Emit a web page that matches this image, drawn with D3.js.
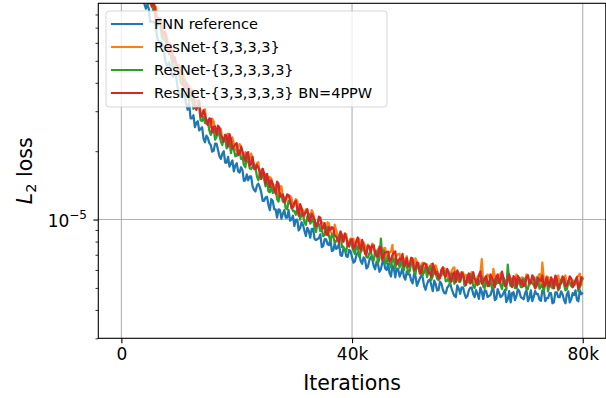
<!DOCTYPE html>
<html><head><meta charset="utf-8">
<script src="https://cdn.jsdelivr.net/npm/d3@7"></script>
<style>
body{margin:0;background:#fff}
svg{display:block}
text{font-family:"DejaVu Sans",sans-serif;fill:#000}
</style>
</head><body>
<svg id="chart" width="606" height="398"></svg>
<script>
// ---------------- data (loss values in units of 1e-6) ----------------
const seriesNames = ["FNN reference","ResNet-{3,3,3,3}","ResNet-{3,3,3,3,3}","ResNet-{3,3,3,3,3} BN=4PPW"];
const seriesColors = ["#1f77b4","#ff7f0e","#2ca02c","#d62728"];
const iterations = d3.range(0, 80001, 500);      // samples at 0, 500, ... 80000
const iterationsMid = d3.range(250, 80000, 500); // samples at 250, 750, ... 79750
const lossUnit = 1e-6;

const fnnLoss = [
186.5,182.8,157.1,153.9,126.8,124.9,110.1,107.7,89.0,88.4,
74.1,73.9,70.3,60.7,60.4,52.4,46.9,47.5,42.5,42.6,
36.1,36.1,34.9,30.5,27.9,28.8,26.7,24.7,25.5,21.9,
22.9,21.3,20.1,21.6,19.0,19.5,17.8,18.9,17.7,16.3,
17.7,16.1,16.5,14.9,14.9,15.5,13.5,14.1,13.9,12.1,
12.5,11.6,12.3,11.1,10.2,11.0,10.6,10.2,11.0,10.0,
9.37,9.99,9.16,9.46,8.47,8.93,9.10,8.22,8.21,8.61,
7.64,8.19,7.72,7.26,7.86,7.52,6.96,7.44,6.90,7.36,
6.83,6.56,7.17,6.56,6.82,6.09,6.62,6.68,6.04,6.36,
6.05,6.55,5.99,5.81,6.29,5.57,6.05,5.81,5.59,5.92,
5.74,5.24,5.63,5.31,5.68,5.09,5.20,5.46,4.84,5.20,
4.89,5.22,4.74,5.01,5.24,4.76,4.56,4.97,5.03,4.72,
4.60,5.01,4.70,4.89,4.47,4.81,4.89,4.56,4.65,4.98,
4.47,4.75,4.61,4.90,4.46,4.32,4.79,4.60,4.84,4.51,
4.74,4.37,4.88,4.56,4.70,4.44,4.88,4.37,4.51,4.74,
4.32,4.78,4.55,4.69,4.28,4.83,4.46,4.65,4.42,4.88,
4.78];
const fnnLossMid = [
193.2,163.0,159.6,131.6,130.5,112.2,112.9,96.2,84.8,84.8,
74.6,74.7,62.5,60.7,58.4,48.4,49.2,43.3,44.1,38.1,
34.7,35.7,32.1,32.5,27.9,25.5,27.1,25.1,22.7,23.4,
21.7,19.9,21.6,20.3,18.5,20.0,17.8,17.1,18.2,17.3,
16.3,17.0,14.8,15.8,15.5,14.0,13.3,14.4,13.2,12.1,
12.6,11.0,12.1,11.1,11.1,10.1,11.0,10.2,9.89,10.4,
9.98,8.95,9.73,8.92,9.20,8.32,9.11,8.13,8.28,7.56,
8.20,7.79,8.19,7.33,7.43,7.83,6.92,7.39,6.85,7.24,
6.46,6.94,7.07,6.39,6.66,6.20,6.85,6.26,6.52,5.89,
6.46,6.09,6.39,5.61,6.09,6.08,5.61,6.13,5.44,5.73,
5.39,5.76,5.11,5.50,5.55,4.91,5.39,5.12,5.38,4.87,
5.33,4.91,4.73,5.11,4.98,4.61,5.13,4.71,5.02,4.52,
4.88,5.01,4.56,4.70,5.02,4.47,4.84,4.61,4.89,4.42,
4.94,4.56,4.74,4.33,4.84,4.74,4.42,4.93,4.56,4.46,
4.88,4.51,4.37,4.84,4.69,4.39,4.88,4.51,4.74,4.28,
4.78,4.55,4.83,4.42,4.69,4.32,4.74,4.88,4.37,4.69];

const resnet4Loss = [
230.8,219.4,186.6,186.6,158.6,154.4,128.2,125.7,119.1,100.9,
96.5,85.3,86.1,74.3,71.9,61.0,62.3,55.4,53.0,47.3,
47.8,41.2,41.5,37.4,38.2,32.6,32.9,32.4,28.9,30.6,
27.2,25.6,27.1,24.6,25.0,22.5,23.6,23.9,21.3,21.6,
20.1,21.5,19.4,19.8,17.8,19.5,17.4,17.7,15.6,16.3,
15.8,14.4,15.2,13.5,13.8,14.0,12.7,12.0,12.7,12.5,
11.5,12.1,10.6,11.0,11.1,10.2,11.0,9.97,9.46,9.93,
9.64,8.80,9.62,8.72,9.49,8.33,8.54,7.99,8.61,8.00,
8.20,7.41,8.18,7.56,7.94,7.33,7.56,7.84,7.04,7.41,
7.12,7.47,6.70,7.19,7.73,6.70,7.04,6.50,6.70,6.89,
6.24,6.55,6.74,6.12,6.30,5.87,6.35,6.23,5.87,6.28,
5.52,5.95,6.10,5.72,5.58,6.11,5.47,5.78,5.86,5.49,
5.63,5.39,5.85,5.25,5.69,6.69,5.25,5.73,5.41,6.06,
5.30,5.57,5.68,5.11,5.68,5.47,5.31,5.74,5.20,5.57,
5.36,5.68,5.25,5.52,5.15,5.76,6.47,5.25,5.57,5.04,
5.46,5.62,5.19,5.41,5.67,5.14,5.46,5.25,5.57,5.78,
5.62];
const resnet4LossMid = [
229.7,193.6,193.4,166.4,164.4,136.1,130.4,123.7,105.1,93.9,
95.9,87.1,75.1,77.1,66.7,64.3,55.7,56.7,47.4,48.1,
42.9,44.1,38.5,38.6,33.5,33.9,33.5,29.3,30.1,26.4,
27.6,27.8,24.7,24.4,25.1,22.3,23.7,21.8,23.0,20.4,
20.8,21.1,18.3,19.6,18.0,18.6,16.5,17.9,16.6,15.2,
15.0,15.4,13.7,14.2,12.6,14.0,12.6,12.6,12.7,11.3,
12.3,11.0,11.2,10.3,11.0,10.3,10.7,9.37,10.0,9.74,
8.99,9.72,8.81,8.37,9.00,8.61,8.14,8.67,7.66,8.26,
8.23,7.68,8.22,7.30,7.67,7.75,7.15,7.74,6.87,7.37,
7.09,7.51,6.81,7.22,6.54,6.94,7.07,6.40,6.67,6.15,
6.78,6.27,6.52,5.90,6.46,6.20,5.78,6.38,5.78,6.02,
5.63,6.12,5.85,5.42,5.91,6.16,5.57,5.38,5.85,5.71,
5.40,5.87,5.31,5.58,5.79,5.16,5.57,5.63,5.19,5.68,
5.41,5.79,5.29,5.21,5.68,5.52,5.09,5.63,5.47,5.31,
5.74,5.15,5.57,5.36,5.62,5.05,5.46,5.62,5.19,5.41,
5.14,5.67,5.25,5.51,5.09,5.57,5.41,5.19,5.67,5.14];

const resnet5Loss = [
230.4,198.5,175.5,174.0,155.3,135.5,135.9,113.6,109.0,93.9,
95.3,83.5,75.6,76.4,63.7,62.9,55.8,55.8,46.5,47.7,
43.7,39.2,41.0,35.6,35.3,30.7,31.3,31.1,27.2,26.6,
27.1,23.6,25.3,23.1,23.5,21.3,23.1,21.0,19.6,20.5,
19.1,20.1,18.8,17.0,18.3,16.7,17.5,15.5,15.9,16.7,
14.0,13.3,14.0,13.3,12.3,13.1,12.0,11.2,12.1,11.5,
10.9,11.2,10.0,10.6,9.47,10.6,9.79,9.19,9.63,8.89,
8.45,9.23,8.45,8.62,7.87,8.24,8.75,7.60,7.25,7.90,
7.64,7.04,7.55,7.19,7.61,6.83,7.11,6.82,7.25,6.42,
8.25,7.30,6.43,6.49,6.76,6.11,6.50,6.68,5.99,6.24,
5.93,6.48,5.74,6.17,6.23,5.87,5.58,6.22,5.64,5.86,
5.41,5.67,5.91,5.38,5.19,5.71,5.58,5.33,5.68,5.11,
5.51,5.77,5.10,5.36,5.20,5.60,4.99,5.36,5.46,5.09,
5.20,5.51,4.94,5.38,6.34,5.10,5.25,4.99,5.51,5.04,
5.30,4.94,5.41,5.15,5.56,4.96,5.19,5.29,4.83,5.40,
5.04,5.24,4.99,5.45,4.88,5.35,5.09,5.29,5.55,5.04,
5.50];
const resnet5LossMid = [
205.7,205.2,173.3,167.9,140.1,138.7,117.8,117.6,101.9,89.1,
91.1,82.8,71.3,73.4,62.1,59.9,57.9,49.3,46.9,47.5,
40.3,40.8,39.2,33.2,33.9,31.2,31.8,27.3,28.3,27.5,
24.7,24.9,22.5,24.4,22.1,22.9,20.6,22.2,21.0,19.0,
20.2,18.5,17.4,19.0,16.8,17.1,17.1,14.9,15.1,15.1,
15.2,13.2,13.1,13.7,12.0,12.8,12.2,11.1,12.0,10.9,
10.5,11.2,10.6,9.69,10.3,9.59,10.1,8.81,9.54,9.08,
8.55,9.23,8.04,8.45,8.06,8.42,7.57,7.30,7.89,7.99,
7.30,7.66,6.86,7.58,7.21,6.80,7.21,6.59,7.28,6.73,
6.87,6.40,6.93,6.15,6.66,6.66,6.15,6.21,6.58,5.84,
6.40,5.89,6.44,5.90,5.67,6.14,5.90,5.43,6.01,5.49,
5.74,5.94,5.35,5.48,5.79,5.21,5.62,5.32,5.78,5.16,
5.29,5.60,4.99,5.47,5.41,5.06,5.57,5.09,4.99,5.46,
5.30,5.15,5.55,4.90,5.36,5.46,4.99,5.30,5.04,5.51,
4.94,5.36,5.25,4.99,5.50,5.06,4.83,5.40,5.24,4.99,
5.35,4.88,5.45,5.19,4.93,5.29,5.04,5.40,4.83,5.35];

const resnet5BnLoss = [
235,205,200,174,168,141,135,116,114.6,109.2,
92.7,91.4,76.3,76.6,68.4,67.4,57.5,59.3,49.4,48.8,
44.2,45.1,37.9,38.9,35.3,35.4,30.4,33.4,28.6,28.9,
26.1,27.7,25.6,23.6,25.4,22.9,23.6,21.0,22.6,21.0,
21.7,19.5,20.0,18.1,19.8,17.5,16.7,17.4,16.2,16.7,
14.4,15.0,14.9,13.5,14.7,12.6,12.9,12.3,12.8,11.2,
11.9,11.2,11.7,10.4,10.8,9.88,10.6,9.97,9.46,10.2,
9.17,8.62,9.26,9.25,8.54,8.16,8.87,7.99,8.28,7.60,
8.20,7.64,8.34,7.33,7.64,7.03,7.63,7.70,7.11,6.90,
7.55,6.98,7.19,6.56,6.98,7.24,6.50,6.63,6.24,6.76,
6.30,6.74,6.05,6.43,5.81,6.42,6.11,5.81,6.40,5.75,
5.52,6.01,5.69,6.06,5.46,5.77,5.30,5.78,5.86,5.38,
5.58,5.23,5.85,5.36,5.69,5.22,5.52,5.09,5.73,5.36,
5.57,5.25,5.90,5.11,5.47,5.25,5.63,5.04,5.52,5.41,
5.15,5.68,5.25,5.57,5.09,5.44,5.67,5.14,5.25,5.57,
4.98,5.46,5.19,5.62,5.09,5.35,5.51,5.14,5.57,5.19,
5.46];
const resnet5BnLossMid = [
212.1,211.8,178.7,178.2,145.9,143.1,120.1,121.4,105.1,105.7,
86.7,87.1,77.4,76.4,64.0,64.9,53.4,54.6,51.9,45.3,
46.4,39.1,40.1,36.1,37.3,31.9,31.9,28.4,30.3,27.0,
27.9,24.2,25.7,25.9,23.5,22.0,23.3,23.8,20.6,21.4,
19.2,20.9,18.9,19.6,17.3,18.9,16.7,16.9,15.1,16.0,
15.9,13.9,14.4,13.0,14.4,12.7,11.9,12.9,12.2,11.4,
12.1,10.4,11.2,10.6,11.1,9.89,10.3,9.37,10.3,9.18,
9.64,8.54,8.99,9.16,8.40,7.85,8.56,8.67,7.74,8.10,
7.45,8.07,7.60,8.13,7.07,7.67,7.22,7.67,6.94,7.59,
6.59,7.16,7.23,6.67,7.15,6.34,6.74,7.06,6.41,6.21,
6.78,6.01,6.46,5.78,6.27,6.38,5.84,5.60,6.14,5.90,
5.51,6.17,5.63,5.88,5.34,5.88,5.97,5.38,5.68,5.15,
5.79,5.33,5.52,5.14,5.90,5.32,5.63,5.14,5.57,5.03,
5.73,5.36,5.51,5.16,5.74,5.04,5.52,5.63,5.20,5.09,
5.57,5.25,5.68,4.98,5.51,5.37,5.04,5.57,5.09,5.41,
5.67,4.98,5.25,5.51,5.14,5.62,5.04,5.41,4.98,5.57];

const xTicks = [0, 40000, 80000];
const xTickLabels = ["0", "40k", "80k"];
const yMajorTicks = [1e-5];
const yMinorTicks = [3e-6,4e-6,5e-6,6e-6,7e-6,8e-6,9e-6,2e-5,3e-5,4e-5,5e-5,6e-5,7e-5,8e-5];
const xLabel = "Iterations";

// combine the two sample grids of each series, ordered by iteration
function points(main, mid){
  const pts = main.map((v,i)=>({it: iterations[i], v}))
    .concat(mid.map((v,i)=>({it: iterationsMid[i], v})));
  return pts.sort((a,b)=>a.it-b.it);
}
const allSeries = [
  points(fnnLoss, fnnLossMid),
  points(resnet4Loss, resnet4LossMid),
  points(resnet5Loss, resnet5LossMid),
  points(resnet5BnLoss, resnet5BnLossMid)
];

// ---------------- layout ----------------
const svg = d3.select("#chart");
const L = 98.3, R = 605.8, T = 3.3, B = 338.3;
const x = d3.scaleLinear().domain([-4000, 84000]).range([L, R]);
const y = d3.scaleLog().domain([3.0e-6, 8.96e-5]).range([B, T]);

svg.append("defs").append("clipPath").attr("id","clip")
  .append("rect").attr("x",L).attr("y",T).attr("width",R-L).attr("height",B-T);

// grid
const grid = svg.append("g").attr("stroke","#b0b0b0").attr("stroke-width",1.1);
xTicks.forEach(t => grid.append("line").attr("x1",x(t)).attr("x2",x(t)).attr("y1",T).attr("y2",B));
yMajorTicks.forEach(t => grid.append("line").attr("x1",L).attr("x2",R).attr("y1",y(t)).attr("y2",y(t)));

// lines
const line = d3.line().x(d=>x(d.it)).y(d=>y(d.v*lossUnit));
const lg = svg.append("g").attr("clip-path","url(#clip)");
allSeries.forEach((s,k)=>{
  lg.append("path").datum(s).attr("d",line).attr("fill","none")
    .attr("stroke",seriesColors[k]).attr("stroke-width",2.25).attr("stroke-linejoin","round");
});

// axes via d3
const xAxis = d3.axisBottom(x).tickValues(xTicks).tickFormat((d,i)=>xTickLabels[i]).tickSize(4.9).tickPadding(4.5);
const gx = svg.append("g").attr("transform",`translate(0,${B})`).call(xAxis);
gx.select(".domain").remove();
gx.selectAll("line").attr("stroke","#000").attr("stroke-width",1.1);
gx.selectAll("text").attr("font-size",17).attr("font-family","DejaVu Sans").attr("fill","#000");

const yAxisMinor = d3.axisLeft(y).tickValues(yMinorTicks).tickFormat("").tickSize(2.8);
const gym = svg.append("g").attr("transform",`translate(${L},0)`).call(yAxisMinor);
gym.select(".domain").remove();
gym.selectAll("line").attr("stroke","#000").attr("stroke-width",0.8);

const yAxisMajor = d3.axisLeft(y).tickValues(yMajorTicks).tickFormat("").tickSize(4.9);
const gyM = svg.append("g").attr("transform",`translate(${L},0)`).call(yAxisMajor);
gyM.select(".domain").remove();
gyM.selectAll("line").attr("stroke","#000").attr("stroke-width",1.1);
yMajorTicks.forEach(t=>{
  const e = Math.round(Math.log10(t));
  const tx = svg.append("text").attr("x",87).attr("y",y(t)+7.3).attr("text-anchor","end").attr("font-size",17);
  tx.append("tspan").text("10");
  tx.append("tspan").attr("font-size",12).attr("dy",-8).text("\u2212"+Math.abs(e));
});

// spines
svg.append("rect").attr("x",L).attr("y",T).attr("width",R-L).attr("height",B-T)
  .attr("fill","none").attr("stroke","#000").attr("stroke-width",1.1);

// axis labels
svg.append("text").attr("x",(L+R)/2).attr("y",389.5).attr("text-anchor","middle").attr("font-size",20.5).text(xLabel);
const yl = svg.append("text").attr("transform",`translate(31.5,${(T+B)/2}) rotate(-90)`).attr("text-anchor","middle").attr("font-size",20.5);
yl.append("tspan").attr("font-style","italic").text("L");
yl.append("tspan").attr("font-size",14.5).attr("dy",4).text("2");
yl.append("tspan").attr("dy",-4).text(" loss");

// legend
const leg = svg.append("g");
leg.append("rect").attr("x",106).attr("y",11).attr("width",281).attr("height",96).attr("rx",3)
  .attr("fill","#fff").attr("fill-opacity",0.8).attr("stroke","#cccccc").attr("stroke-opacity",0.8).attr("stroke-width",1);
seriesNames.forEach((n,k)=>{
  const cy = 24 + k*23;
  leg.append("line").attr("x1",111).attr("x2",143).attr("y1",cy).attr("y2",cy)
    .attr("stroke",seriesColors[k]).attr("stroke-width",2);
  leg.append("text").attr("x",154).attr("y",cy+5.3).attr("font-size",14.5).text(n);
});
</script>
</body></html>
